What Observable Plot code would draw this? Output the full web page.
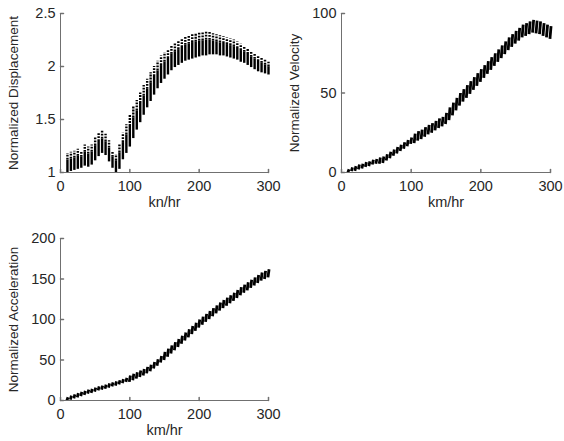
<!DOCTYPE html>
<html><head><meta charset="utf-8">
<script src="https://cdn.jsdelivr.net/npm/d3@7"></script>
<script src="https://cdn.jsdelivr.net/npm/@observablehq/plot@0.6"></script>
<style>
html,body{margin:0;padding:0;background:#fff;}
#fig{position:relative;width:564px;height:441px;overflow:hidden;}
#fig svg{position:absolute;}
</style></head><body><div id="fig"></div>
<script>
// speeds (km/hr) at which each group of samples was plotted
const speeds = [10,15,20,25,30,35,40,45,50,55,60,65,70,75,80,85,90,95,100,105,110,115,120,125,130,135,140,145,150,155,160,165,170,175,180,185,190,195,200,205,210,215,220,225,230,235,240,245,250,255,260,265,270,275,280,285,290,295,300];
const xTicks = [0,100,200,300];

// Normalized displacement: min / max of each group
const dispLo = [1.00,1.01,1.02,1.03,1.04,1.06,1.05,1.07,1.11,1.15,1.18,1.16,1.10,1.04,1.00,1.03,
  1.12,1.18,1.24,1.32,1.40,1.47,1.54,1.61,1.67,1.73,1.79,1.84,1.88,
  1.92,1.96,1.99,2.01,2.03,2.05,2.06,2.07,2.08,2.09,2.10,2.10,2.11,2.11,2.11,2.10,2.10,2.09,2.08,2.07,2.06,2.04,2.03,2.01,1.99,1.97,1.95,1.94,1.93,1.92];
const dispHi = [1.18,1.19,1.20,1.22,1.20,1.26,1.24,1.26,1.33,1.37,1.39,1.36,1.30,1.20,1.17,1.27,
  1.37,1.45,1.54,1.62,1.68,1.75,1.82,1.88,1.94,2.00,2.05,2.10,2.13,
  2.16,2.20,2.22,2.24,2.26,2.28,2.29,2.31,2.31,2.32,2.32,2.33,2.32,2.31,2.30,2.29,2.28,2.27,2.26,2.25,2.23,2.21,2.19,2.17,2.14,2.12,2.10,2.08,2.06,2.04];
const dispTicks = [1,1.5,2,2.5];

// Normalized velocity: centre and half-spread of each group
const velMid = [1,2,2.5,3.5,4,5,5.5,6.5,7,7.5,8,9.5,11,12.5,14,15.5,
  17,18.5,20,21.5,23,24,25.5,27,28,29.5,31,32,34,
  37,40,43,46,48.5,51,53.5,56,58.5,61,63.5,66,68.5,71,73.5,76,78.5,81,83,85,87,89,90,91,92,91.5,91,90,89,88];
const velSpread = [1,1.2,1.5,1.5,1.5,1.5,1.5,1.5,1.5,2,2,2,2,2,2,2,
  2,2,2,3,3,3,3,3,3,3,3,3,3.5,
  4,4,4,4,4,4,4,4,4,4,4,4,4,4,4,4,4,4,4,4,4,4,4,4,4,4,4,4,4,4];
const velTicks = [0,50,100];

// Normalized acceleration: centre and half-spread of each group
const accMid = [2,3.5,5,6.5,8,9.5,11,12,13.5,15,16,17,18.5,20,21,22.5,
  24,25.5,27,29,31,33,35,37.5,40,43.5,47,51,55,
  59,63,67,71,75,79,83,87,91,95,98.5,102,105.5,109,112.5,116,119,122,125,128,131.5,135,138,141,144,147,150,153,155,157];
const accSpread = [2,2.5,2.5,2.5,2.5,2.5,2.5,2.5,2.5,2.5,2.5,2.5,2.5,2.5,2.5,2.5,
  2.5,2.5,4,4,4,4,4,4,4,4,4,4,5,
  5,5,5,5,5,5,5,5,5,5,5,5,5,5,5,5,5,5,5,5,5,5,5,5,5,5,5,5,5,5];
const accTicks = [0,50,100,150,200];

const AX = "#707070", TXT = "#262626", FONT = "'Liberation Sans', Arial, sans-serif";
const tickShape = {draw(ctx, l) { ctx.moveTo(0, 0); ctx.lineTo(0, -l); }};

function panel(o) {
  const y0 = o.yDomain[0];
  const svg = Plot.plot({
    width: o.width, height: o.height,
    marginLeft: o.ml, marginRight: o.mr, marginTop: o.mt, marginBottom: o.mb,
    x: {domain: [0, 300]},
    y: {domain: o.yDomain},
    style: {fontFamily: FONT, fontSize: "14px", color: TXT, background: "transparent", overflow: "visible"},
    marks: [
      ...o.marks,
      Plot.ruleX([0], {stroke: AX, strokeWidth: 1}),
      Plot.ruleY([y0], {stroke: AX, strokeWidth: 1}),
      Plot.vector(xTicks, {x: d => d, y: y0, length: 3, rotate: 0, anchor: "start", shape: tickShape, stroke: AX}),
      Plot.vector(o.yTicks, {x: 0, y: d => d, length: 3, rotate: 90, anchor: "start", shape: tickShape, stroke: AX}),
      Plot.axisX({ticks: xTicks, tickSize: 0, tickPadding: 8, label: null, fontSize: 14.5, fill: TXT}),
      Plot.axisY({ticks: o.yTicks, tickSize: 0, tickPadding: 5, label: null, fontSize: 14.5, fill: TXT, tickFormat: d => String(d)}),
      Plot.text([o.xlabel], {frameAnchor: "bottom", textAnchor: "middle", dy: 34, fontSize: 14.5, fill: TXT}),
      Plot.text([o.ylabel], {frameAnchor: "left", textAnchor: "middle", dx: -47, rotate: -90, fontSize: 13.5, fill: TXT})
    ]
  });
  svg.style.left = o.left + "px";
  svg.style.top = o.top + "px";
  document.getElementById("fig").appendChild(svg);
}

const dispData = speeds.map((s, i) => ({s, lo: dispLo[i], hi: dispHi[i]}));
const velData = speeds.map((s, i) => ({s, lo: velMid[i] - velSpread[i], hi: velMid[i] + velSpread[i]}));
const accData = speeds.map((s, i) => ({s, lo: accMid[i] - accSpread[i], hi: accMid[i] + accSpread[i]}));
const mid = d => d.lo + 0.65 * (d.hi - d.lo);

panel({
  left: 0, top: 0, width: 282, height: 220, ml: 60, mr: 14, mt: 13, mb: 48,
  yDomain: [1, 2.5], yTicks: dispTicks, xlabel: "kn/hr", ylabel: "Normalized Displacement",
  marks: [
    Plot.ruleX(dispData, {x: "s", y1: "lo", y2: mid, stroke: "#000", strokeWidth: 2.4}),
    Plot.ruleX(dispData, {x: "s", y1: mid, y2: "hi", stroke: "#000", strokeWidth: 2.4, strokeDasharray: "1.8,1.2"})
  ]
});

panel({
  left: 282, top: 0, width: 282, height: 220, ml: 59, mr: 14, mt: 13, mb: 48,
  yDomain: [0, 100], yTicks: velTicks, xlabel: "km/hr", ylabel: "Normalized Velocity",
  marks: [
    Plot.link(velData, {x1: d => d.s - 0.8, x2: d => d.s + 0.8, y1: "lo", y2: "hi", stroke: "#000", strokeWidth: 2.8})
  ]
});

panel({
  left: 0, top: 220, width: 282, height: 221, ml: 60, mr: 14, mt: 18, mb: 41,
  yDomain: [0, 200], yTicks: accTicks, xlabel: "km/hr", ylabel: "Normalized Acceleration",
  marks: [
    Plot.link(accData, {x1: d => d.s - 0.8, x2: d => d.s + 0.8, y1: "lo", y2: "hi", stroke: "#000", strokeWidth: 2.8})
  ]
});
</script>
</body></html>
